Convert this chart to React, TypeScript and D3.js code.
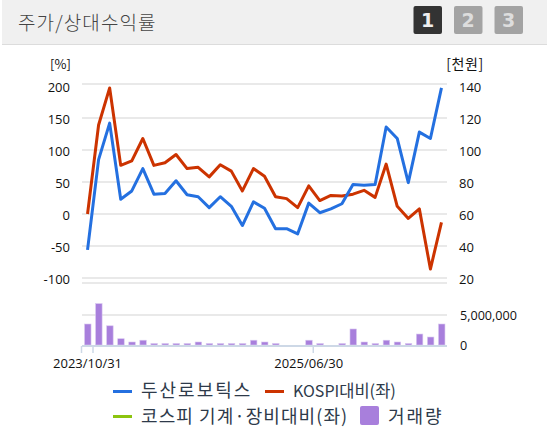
import * as d3 from "d3";

const blue = [-56, 85, 142, 23, 36, 71, 31, 32, 52, 30, 27, 10, 27, 12, -18, 19, 9, -23, -23, -31, 17, 2, 8, 16, 46, 45, 46, 136, 118, 49, 128, 118, 197];
const red = [0, 139, 197, 76, 83, 118, 76, 80, 93, 71, 73, 58, 77, 67, 36, 71, 59, 27, 24, 10, 44, 21, 29, 28, 31, 37, 26, 78, 12, -7, 8, -86, -13];
const volume = [3500000, 6900000, 3200000, 1050000, 500000, 800000, 250000, 250000, 250000, 250000, 500000, 250000, 250000, 250000, 250000, 800000, 500000, 250000, 0, 0, 800000, 250000, 0, 250000, 2670000, 500000, 250000, 800000, 500000, 250000, 1830000, 1330000, 3500000];
const leftTicks = [200, 150, 100, 50, 0, -50, -100];
const rightTicks = [140, 120, 100, 80, 60, 40, 20];
const volTicks = [5000000, 0];
const dateTicks: [number, string][] = [[0, "2023/10/31"], [20, "2025/06/30"]];

const KR = "'Noto Sans CJK KR', sans-serif";
const NUM = "'Open Sans', 'Noto Sans', sans-serif";
const LEGEND = "#2e3a4a";

const idx = d3.range(blue.length);
const x = d3.scaleBand<number>().domain(idx).range([82, 447]);
const cx = (i: number) => x(i)! + x.bandwidth() / 2;
const yL = d3.scaleLinear().domain([-100, 200]).range([278, 86]);
const yR = d3.scaleLinear().domain([20, 140]).range([278, 86]);
const yV = d3.scaleLinear().domain([0, 5000000]).range([345, 315]);

const line = d3.line<number>().x((_, i) => cx(i)).y(d => yL(d));

export default function App() {
    return (
        <svg width={547} height={436} style={{ position: "absolute", left: 0, top: 0, background: "#fff" }}>
            <rect x={2} y={0} width={545} height={44} fill="#f0f0f0" />
            <rect x={2} y={44} width={545} height={1} fill="#dcdcdc" />
            <text x={18} y={30} fontSize={19} fontWeight={300} letterSpacing={1.1} fill="#444" fontFamily={KR}>주가/상대수익률</text>
            {["1", "2", "3"].map((t, i) => (
                <g key={t}>
                    <rect x={413.5 + i * 40.5} y={6} width={28.5} height={28} rx={2} fill={i === 0 ? "#333" : "#a3a3a3"} />
                    <text x={427.7 + i * 40.5} y={27} textAnchor="middle" fontSize={19} fontWeight={700} fill={i === 0 ? "#eee" : "#ddd"} fontFamily="'DejaVu Sans', sans-serif">{t}</text>
                </g>
            ))}
            <text x={60.5} y={69} textAnchor="middle" fontSize={13} fill="#111" fontFamily={KR}>[%]</text>
            <text x={465} y={69} textAnchor="middle" fontSize={14} letterSpacing={0.6} fill="#111" fontFamily={KR}>[천원]</text>

            {[84, ...leftTicks.slice(1).map(d => yL(d)), 283].map(y => (
                <line key={y} x1={82} x2={447} y1={y} y2={y} stroke="#e2e2e2" strokeWidth={1.5} />
            ))}
            {leftTicks.map(d => (
                <text key={d} x={70} y={yL(d) + 6} textAnchor="end" fontSize={13} fill="#111" fontFamily={NUM}>{d}</text>
            ))}
            {rightTicks.map(d => (
                <text key={d} x={459} y={yR(d) + 6} fontSize={13} fill="#111" fontFamily={NUM}>{d}</text>
            ))}

            <line x1={82} x2={447} y1={yV(5000000)} y2={yV(5000000)} stroke="#e2e2e2" strokeWidth={1.5} />
            {volume.map((d, i) => (
                <rect key={i} x={cx(i) - 3} y={yV(d)} width={6.5} height={yV(0) - yV(d)} fill="#a87fdc" stroke="#d9c8f0" strokeWidth={0.6} />
            ))}
            <line x1={82} x2={447} y1={346} y2={346} stroke="#cdd8e6" strokeWidth={2} />
            {[81.5, 93, x(20)! + x.bandwidth() - 1].map(px => (
                <line key={px} x1={px} x2={px} y1={346} y2={353} stroke="#cdd8e6" strokeWidth={1.5} />
            ))}
            {volTicks.map(d => (
                <text key={d} x={460} y={yV(d) + 4.5} fontSize={12.6} fill="#111" fontFamily={NUM}>{d3.format(",")(d)}</text>
            ))}
            {dateTicks.map(([i, t]) => (
                <text key={t} x={cx(i)} y={368} textAnchor="middle" fontSize={13} fill="#111" fontFamily={NUM}>{t}</text>
            ))}

            <path d={line(red)!} fill="none" stroke="#cc3300" strokeWidth={3} strokeLinejoin="round" />
            <path d={line(blue)!} fill="none" stroke="#2470e0" strokeWidth={3} strokeLinejoin="round" />

            <rect x={113} y={390} width={19} height={3} fill="#2470e0" />
            <text x={141} y={397} fontSize={18} letterSpacing={2} fill={LEGEND} fontFamily={KR}>두산로보틱스</text>
            <rect x={265} y={390} width={19} height={3} fill="#cc3300" />
            <text x={293} y={397} fontSize={16} fill={LEGEND} fontFamily={KR}>KOSPI<tspan fontSize={16.5}>대비(좌)</tspan></text>
            <rect x={113} y={415} width={19} height={3} fill="#8cc40f" />
            <text x={141} y={423} fontSize={18} letterSpacing={1.1} fill={LEGEND} fontFamily={KR}>코스피 기계·장비대비(좌)</text>
            <rect x={360} y={406} width={19} height={19} rx={2} fill="#a87fdc" />
            <text x={388} y={423} fontSize={18} letterSpacing={2} fill={LEGEND} fontFamily={KR}>거래량</text>
        </svg>
    );
}
